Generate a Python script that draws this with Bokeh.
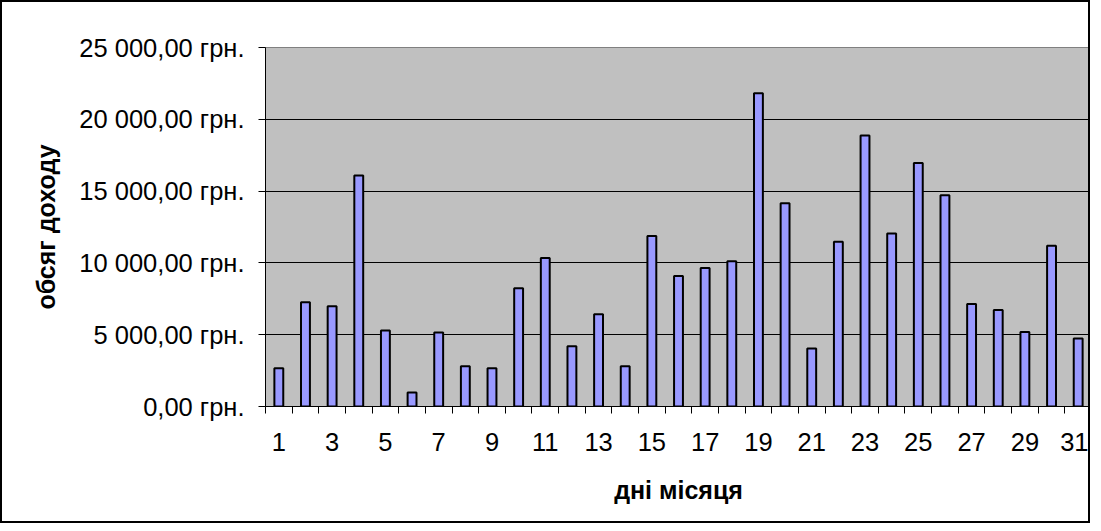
from bokeh.plotting import figure
from bokeh.models import Range1d, FixedTicker
from bokeh.embed import file_html
from bokeh.resources import INLINE

# ---- data ----
days = list(range(1, 32))
income = [2660, 7260, 6980, 16080, 5300, 980, 5160, 2800, 2660, 8240,
          10340, 4200, 6420, 2800, 11880, 9080, 9640, 10110, 21820, 14150,
          4040, 11480, 18880, 12040, 16950, 14710, 7140, 6720, 5180, 11200,
          4740]
y_ticks = [0, 5000, 10000, 15000, 20000, 25000]
y_tick_labels = ["0,00 грн.", "5 000,00 грн.", "10 000,00 грн.",
                 "15 000,00 грн.", "20 000,00 грн.", "25 000,00 грн."]
x_tick_days = [d for d in days if d % 2 == 1]
x_title = "дні місяця"
y_title = "обсяг доходу"

FONT = "Liberation Sans"

p = figure(width=1090, height=523, output_backend="svg", toolbar_location=None,
           x_range=Range1d(0.5, 31.5), y_range=Range1d(0, 25000),
           min_border_left=263, min_border_right=1, min_border_top=45,
           min_border_bottom=119)
p.styles = {"border": "2px solid black"}
p.background_fill_color = "#C0C0C0"
p.border_fill_color = "white"
p.outline_line_color = "#808080"
p.outline_line_width = 1

p.vbar(x=days, top=income, width=1/3, bottom=0,
       fill_color="#9999FF", line_color="black", line_width=2)

# y axis
p.yaxis.ticker = FixedTicker(ticks=y_ticks)
p.yaxis.major_label_overrides = {t: l for t, l in zip(y_ticks, y_tick_labels)}
p.yaxis.major_tick_out = 7
p.yaxis.major_tick_in = 0
p.yaxis.minor_tick_line_color = None
p.yaxis.axis_line_color = "black"
p.yaxis.major_tick_line_color = "black"
p.yaxis.major_label_text_font = FONT
p.yaxis.major_label_text_font_size = "25.5px"
p.yaxis.major_label_text_color = "black"
p.yaxis.major_label_standoff = 14
p.yaxis.axis_label = y_title
p.yaxis.axis_label_text_font = FONT
p.yaxis.axis_label_text_font_style = "bold"
p.yaxis.axis_label_text_font_size = "25px"
p.yaxis.axis_label_text_color = "black"
p.yaxis.axis_label_standoff = 16

# x axis
p.xaxis.ticker = FixedTicker(ticks=x_tick_days,
                             minor_ticks=[d - 0.5 for d in days] + [days[-1] + 0.5])
p.xaxis.major_tick_out = 0
p.xaxis.major_tick_in = 0
p.xaxis.major_tick_line_color = None
p.xaxis.minor_tick_out = 7
p.xaxis.minor_tick_in = 0
p.xaxis.minor_tick_line_color = "black"
p.xaxis.axis_line_color = "black"
p.xaxis.major_label_text_font = FONT
p.xaxis.major_label_text_font_size = "25.5px"
p.xaxis.major_label_text_color = "black"
p.xaxis.major_label_standoff = 19
p.xaxis.axis_label = x_title
p.xaxis.axis_label_text_font = FONT
p.xaxis.axis_label_text_font_style = "bold"
p.xaxis.axis_label_text_font_size = "25px"
p.xaxis.axis_label_text_color = "black"
p.xaxis.axis_label_standoff = 22

# grid
p.xgrid.grid_line_color = None
p.ygrid.ticker = FixedTicker(ticks=y_ticks)
p.ygrid.grid_line_color = "black"
p.ygrid.grid_line_width = 1

open("out.html", "w").write(file_html(p, INLINE))
